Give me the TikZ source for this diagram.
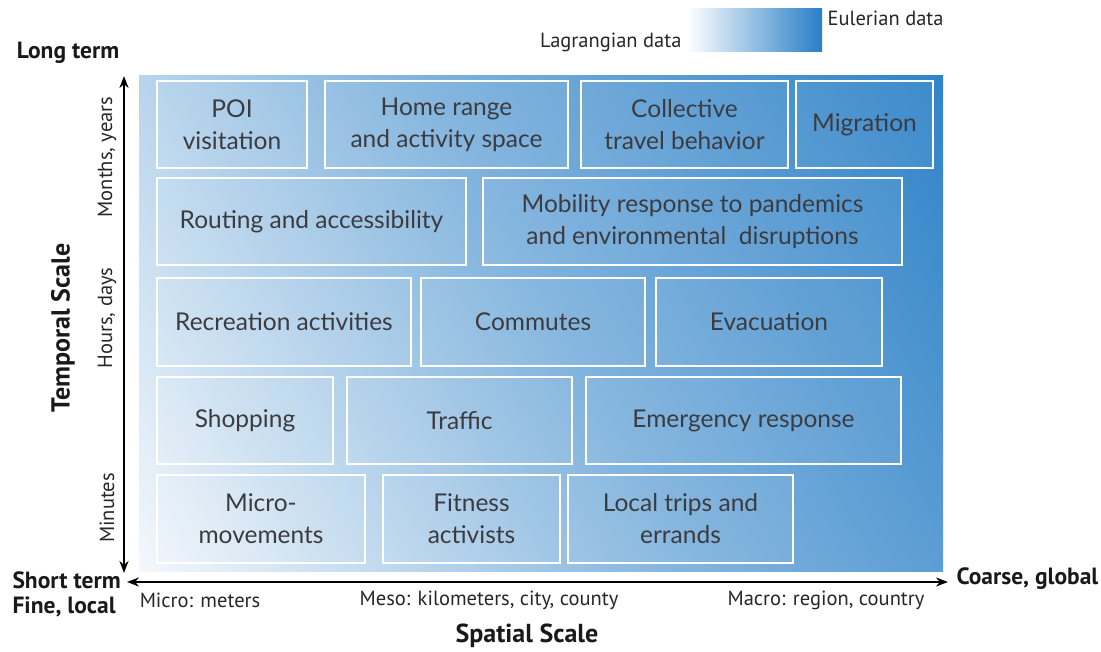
\documentclass[tikz,border=0pt]{standalone}
\usepackage{fontspec}
\setmainfont{PT Sans}
\newfontfamily\cellfont{Lato}
\usetikzlibrary{arrows.meta,positioning}

\definecolor{eulerblue}{RGB}{40,126,198}
\definecolor{celltxt}{RGB}{60,60,64}

% white (Lagrangian) to blue (Eulerian)
\pgfdeclarehorizontalshading{lagreul}{100bp}{
  color(0bp)=(white); color(12bp)=(white);
  color(50bp)=(eulerblue!58!white);
  color(88bp)=(eulerblue); color(100bp)=(eulerblue)}

\tikzset{
  cellbox/.style={draw=white, line width=1.5pt, fill=white, fill opacity=0.06},
  celltext/.style={text=celltxt, font=\cellfont\fontsize{24.5}{32}\selectfont, align=center,
    fill opacity=1, text opacity=1},
  axislabel/.style={font=\fontsize{20.5}{24}\selectfont, text=black!85},
  scalelabel/.style={font=\bfseries\fontsize{23.5}{28}\selectfont, text=black!90},
  scaletitle/.style={font=\bfseries\fontsize{26}{30}\selectfont, text=black!90},
  scalearrow/.style={line width=2pt, {Stealth[length=12pt,width=9pt]}-{Stealth[length=12pt,width=9pt]}}
}

\begin{document}
\begin{tikzpicture}[x=1pt,y=-1pt]
    \useasboundingbox (0,0) rectangle (1101,651);

    % Background
    \shade[shading=lagreul, shading angle=30] (139,75) rectangle (943,571);

    % Legend
    \shade[left color=white, right color=eulerblue] (687,8) rectangle (822,51);
    \node[axislabel, anchor=west] (euler) at (824,18) {Eulerian data};
    \node[axislabel, anchor=east] (lagrange) at (685,42) {Lagrangian data};

    % Months, years
    \draw[cellbox] (157,81) rectangle (307,168) node[midway, celltext] (poi) {POI\\visitation};
    \draw[cellbox] (325,81) rectangle (568,168) node[midway, celltext] (home) {Home range\\and activity space};
    \draw[cellbox] (581,81) rectangle (788,168) node[midway, celltext] (collective) {Collective\\travel behavior};
    \draw[cellbox] (796,81) rectangle (933,168) node[midway, celltext] (migration) {Migration};
    \draw[cellbox] (157,178) rectangle (466,265) node[midway, celltext] (routing) {Routing and accessibility};
    \draw[cellbox] (483,178) rectangle (902,265) node[midway, celltext] (pandemic) {Mobility response to pandemics\\and environmental\ \ disruptions};

    % Hours, days
    \draw[cellbox] (157,278) rectangle (411,366) node[midway, celltext] (recreation) {Recreation activities};
    \draw[cellbox] (421,278) rectangle (645,366) node[midway, celltext] (commutes) {Commutes};
    \draw[cellbox] (656,278) rectangle (882,366) node[midway, celltext] (evacuation) {Evacuation};
    \draw[cellbox] (157,377) rectangle (333,464) node[midway, celltext] (shopping) {Shopping};
    \draw[cellbox] (347,377) rectangle (572,464) node[midway, celltext] (traffic) {Traffic};
    \draw[cellbox] (586,377) rectangle (901,464) node[midway, celltext] (emergency) {Emergency response};

    % Minutes
    \draw[cellbox] (157,475) rectangle (365,563) node[midway, celltext] (micro) {Micro-\\movements};
    \draw[cellbox] (383,475) rectangle (560,563) node[midway, celltext] (fitness) {Fitness\\activists};
    \draw[cellbox] (568,475) rectangle (793,563) node[midway, celltext] (errands) {Local trips and\\errands};

    % Axes
    \coordinate (tlow) at (124,573);
    \coordinate (thigh) at (124,76);
    \coordinate (slow) at (127,582);
    \coordinate (shigh) at (948,582);
    \draw[scalearrow] (tlow) -- (thigh);
    \draw[scalearrow] (slow) -- (shigh);

    % Temporal scale labels
    \node[scalelabel] (longterm) at (68,53) {Long term};
    \node[scalelabel, anchor=west] (shortterm) at (9,580) {Short term};
    \node[scaletitle, rotate=90] (temporal) at (63,328) {Temporal Scale};
    \node[axislabel, rotate=90] (months) at (107,157) {Months, years};
    \node[axislabel, rotate=90] (hours) at (107,318) {Hours, days};
    \node[axislabel, rotate=90] (minutes) at (107,508) {Minutes};

    % Spatial scale labels
    \node[scalelabel, anchor=west] (fine) at (9,607) {Fine, local};
    \node[scalelabel, anchor=west] (coarse) at (953,579) {Coarse, global};
    \node[scaletitle] (spatial) at (527,636) {Spatial Scale};
    \node[axislabel] (microm) at (200,600) {Micro: meters};
    \node[axislabel] (meso) at (489,600) {Meso: kilometers, city, county};
    \node[axislabel] (macro) at (826,600) {Macro: region, country};
\end{tikzpicture}
\end{document}
